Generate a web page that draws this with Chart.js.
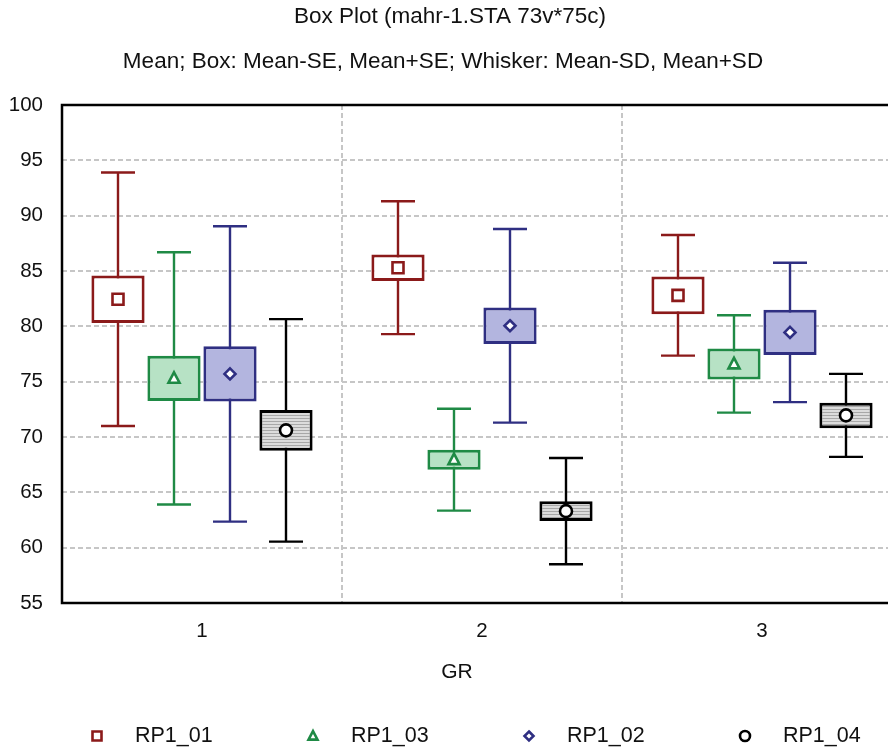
<!DOCTYPE html>
<html>
<head>
<meta charset="utf-8">
<title>Box Plot</title>
<script src="https://cdn.jsdelivr.net/npm/chart.js@4.4.0/dist/chart.umd.min.js"></script>
<style>
    html, body { margin: 0; padding: 0; background: #fff; overflow: hidden; }
    #wrap { position: relative; width: 902px; height: 747px; }
</style>
</head>
<body>
<div id="wrap"><canvas id="boxChart"></canvas></div>
<script>
// --- Data ---
const categories = ['1', '2', '3'];
const seriesNames = ['RP1_01', 'RP1_03', 'RP1_02', 'RP1_04'];

const rp101Mean = [82.45, 85.3, 82.8];
const rp101SE   = [2.15, 1.2, 1.7];
const rp101SD   = [11.45, 6.0, 5.45];

const rp103Mean = [75.3, 67.95, 76.6];
const rp103SE   = [2.05, 0.9, 1.4];
const rp103SD   = [11.4, 4.6, 4.4];

const rp102Mean = [75.7, 80.05, 79.45];
const rp102SE   = [2.5, 1.65, 2.05];
const rp102SD   = [13.35, 8.75, 6.3];

const rp104Mean = [70.6, 63.3, 71.95];
const rp104SE   = [1.85, 0.9, 1.15];
const rp104SD   = [10.05, 4.8, 3.75];

const yMin = 55, yMax = 100, yStep = 5;

document.addEventListener('DOMContentLoaded', function() {

    const FONT = '"Liberation Sans", Arial, sans-serif';
    const ctx = document.getElementById('boxChart').getContext('2d');

    // gray box with fine horizontal hatch
    function hatchPattern() {
        const c = document.createElement('canvas');
        c.width = 4; c.height = 3;
        const p = c.getContext('2d');
        p.fillStyle = '#dcdcdc'; p.fillRect(0, 0, 4, 3);
        p.fillStyle = '#a8a8a8'; p.fillRect(0, 1, 4, 1);
        return ctx.createPattern(c, 'repeat');
    }

    const styles = [
        { color: '#8b1a1a', fill: '#ffffff', marker: 'square' },
        { color: '#1f8a45', fill: '#b7e2c5', marker: 'triangle' },
        { color: '#2f2f82', fill: '#b3b5df', marker: 'diamond' },
        { color: '#000000', fill: hatchPattern(), marker: 'circle' }
    ];
    const means = [rp101Mean, rp103Mean, rp102Mean, rp104Mean];
    const ses = [rp101SE, rp103SE, rp102SE, rp104SE];
    const sds = [rp101SD, rp103SD, rp102SD, rp104SD];

    function drawMarker(c, kind, x, y, s, color) {
        c.save();
        c.lineWidth = 2.6;
        c.strokeStyle = color;
        c.fillStyle = '#fff';
        c.beginPath();
        if (kind === 'square') {
            c.rect(x - s, y - s, s * 2, s * 2);
        } else if (kind === 'triangle') {
            c.moveTo(x, y - s * 1.1);
            c.lineTo(x + s, y + s * 0.8);
            c.lineTo(x - s, y + s * 0.8);
            c.closePath();
        } else if (kind === 'diamond') {
            c.moveTo(x, y - s);
            c.lineTo(x + s, y);
            c.lineTo(x, y + s);
            c.lineTo(x - s, y);
            c.closePath();
        } else {
            c.arc(x, y, s + 0.5, 0, Math.PI * 2);
        }
        c.fill();
        c.stroke();
        c.restore();
    }

    // --- Whiskers (behind boxes) and means (on top) ---
    const boxExtras = {
        id: 'boxExtras',
        beforeDatasetsDraw(chart) {
            const c = chart.ctx, y = chart.scales.y;
            chart.data.datasets.forEach((ds, i) => {
                chart.getDatasetMeta(i).data.forEach((bar, j) => {
                    const hi = y.getPixelForValue(means[i][j] + sds[i][j]);
                    const lo = y.getPixelForValue(means[i][j] - sds[i][j]);
                    c.save();
                    c.strokeStyle = styles[i].color;
                    c.lineWidth = 2.4;
                    c.beginPath();
                    c.moveTo(bar.x, hi); c.lineTo(bar.x, lo);
                    c.moveTo(bar.x - 17, hi); c.lineTo(bar.x + 17, hi);
                    c.moveTo(bar.x - 17, lo); c.lineTo(bar.x + 17, lo);
                    c.stroke();
                    c.restore();
                });
            });
        },
        afterDatasetsDraw(chart) {
            const y = chart.scales.y;
            chart.data.datasets.forEach((ds, i) => {
                chart.getDatasetMeta(i).data.forEach((bar, j) => {
                    drawMarker(chart.ctx, styles[i].marker, bar.x,
                        y.getPixelForValue(means[i][j]), 5.5, styles[i].color);
                });
            });
        },
        afterDraw(chart) {
            const c = chart.ctx, a = chart.chartArea;
            c.save();
            // frame
            c.strokeStyle = '#000';
            c.lineWidth = 2.5;
            c.strokeRect(a.left, a.top, a.right - a.left, a.bottom - a.top);

            // titles and axis name
            c.fillStyle = '#111';
            c.textAlign = 'center';
            c.textBaseline = 'middle';
            c.font = '22.5px ' + FONT;
            c.fillText('Box Plot (mahr-1.STA 73v*75c)', 450, 17);
            c.fillText('Mean; Box: Mean-SE, Mean+SE; Whisker: Mean-SD, Mean+SD', 443, 62);
            c.font = '21px ' + FONT;
            c.fillText('GR', 457, 672);

            // legend
            const legendX = [97, 313, 529, 745];
            c.textAlign = 'left';
            c.font = '21.5px ' + FONT;
            seriesNames.forEach((name, i) => {
                drawMarker(c, styles[i].marker, legendX[i], 736, 4.5, styles[i].color);
                c.fillStyle = '#111';
                c.fillText(name, legendX[i] + 38, 736);
            });
            c.restore();
        }
    };

    new Chart(ctx, {
        type: 'bar',
        data: {
            labels: categories,
            datasets: seriesNames.map((name, i) => ({
                label: name,
                data: means[i].map((m, j) => [m - ses[i][j], m + ses[i][j]]),
                backgroundColor: styles[i].fill,
                borderColor: styles[i].color,
                borderWidth: 3,
                borderSkipped: false,
                categoryPercentage: 0.8,
                barPercentage: 0.95
            }))
        },
        options: {
            responsive: true,
            maintainAspectRatio: false,
            animation: false,
            layout: { padding: { top: 105, left: 0, right: 0, bottom: 0 } },
            plugins: {
                legend: { display: false },
                title: { display: false },
                tooltip: { enabled: false }
            },
            scales: {
                x: {
                    grid: { color: '#c6c6c6', lineWidth: 2, offset: true, drawTicks: false },
                    border: { display: false, dash: [5, 3] },
                    ticks: { color: '#111', font: { family: FONT, size: 20.5 }, padding: 16 },
                    afterFit: function(scale) { scale.height = 144; }
                },
                y: {
                    min: yMin,
                    max: yMax,
                    grid: { color: '#c6c6c6', lineWidth: 2, drawTicks: false },
                    border: { display: false, dash: [5, 3] },
                    ticks: { stepSize: yStep, color: '#111', font: { family: FONT, size: 20.5 }, padding: 19 },
                    afterFit: function(scale) { scale.width = 62; }
                }
            }
        },
        plugins: [boxExtras]
    });
});
</script>
</body>
</html>
